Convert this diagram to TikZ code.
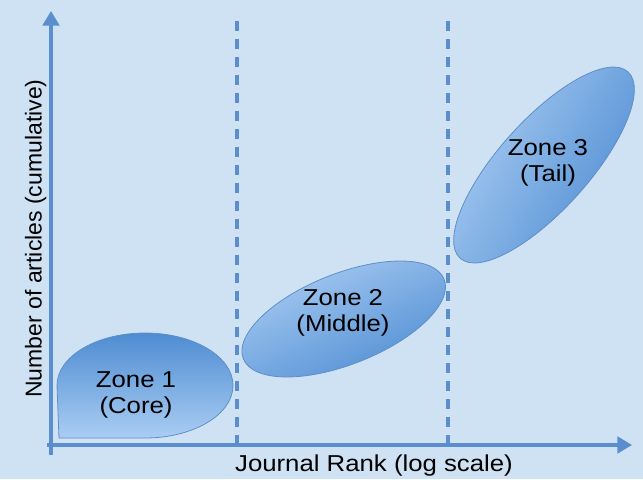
\documentclass[tikz,border=0pt]{standalone}
\usepackage{fontspec}
\setmainfont{Liberation Sans}
\newfontfamily\widesans[FakeStretch=1.12]{Liberation Sans}
\usetikzlibrary{arrows.meta}
\definecolor{bgblue}{RGB}{207,226,243}
\definecolor{axisblue}{RGB}{90,142,206}
\definecolor{zonedark}{RGB}{78,140,210}
\definecolor{zonelight}{RGB}{170,205,243}
\definecolor{zoneedge}{RGB}{95,143,200}
% light-on-top fade used for the tilted zones
\pgfdeclareverticalshading{zonefade}{100bp}{color(0bp)=(zonedark); color(25bp)=(zonedark); color(75bp)=(zonelight); color(100bp)=(zonelight)}
\begin{document}
\begin{tikzpicture}[x=0.75pt,y=0.75pt,
  axis/.style={draw=axisblue, line width=2.3pt, -{Triangle[length=11pt,width=12.5pt]}},
  divider/.style={draw=axisblue, line width=2.4pt, dash pattern=on 7.5pt off 6pt},
  zone/.style={draw=zoneedge, line width=0.6pt, shading=zonefade},
  zonelabel/.style={font=\widesans\fontsize{17.25}{19.5}\selectfont, align=center, text=black, inner sep=0pt},
  axislabel/.style={font=\fontsize{17.25}{19.5}\selectfont, text=black, inner sep=0pt}]
  % background and page frame
  \fill[bgblue] (0,0) rectangle (643,479);
  \useasboundingbox (0,0) rectangle (643,479);

  % reference points for axes and zone dividers
  \coordinate (yfoot) at (51,24);
  \coordinate (ytip) at (51,468);
  \coordinate (xfoot) at (47,34);
  \coordinate (xtip) at (632,34);
  \coordinate (divAtop) at (237,458);
  \coordinate (divAbot) at (237,34);
  \coordinate (divBtop) at (448,458);
  \coordinate (divBbot) at (448,34);

  % zone dividers
  \draw[divider] (divAtop) -- (divAbot);
  \draw[divider] (divBtop) -- (divBbot);

  % axes
  \draw[axis] (yfoot) -- (ytip);
  \draw[axis] (xfoot) -- (xtip);

  % zone 1: rounded blob with a square lower-left corner, dark on top
  \shade[draw=zoneedge, line width=0.6pt, top color=zonedark, bottom color=zonelight]
    (59,41) -- (57,93.5) arc[start angle=180, end angle=-90, x radius=88, y radius=52.5] -- cycle;

  % zone 2 and zone 3: tilted ellipses, light toward the upper left
  \shade[zone, shading angle=25, rotate around={21.6:(343.7,160)}] (343.7,160) ellipse [x radius=108, y radius=45.4];
  \shade[zone, shading angle=60, rotate around={48:(544,314)}] (544,314) ellipse [x radius=125.4, y radius=45];

  % zone labels
  \node[zonelabel] (zone1) at (136,84) {Zone 1\\(Core)};
  \node[zonelabel] (zone2) at (343,166) {Zone 2\\(Middle)};
  \node[zonelabel] (zone3) at (548,316) {Zone 3\\(Tail)};

  % axis labels
  \node[axislabel, font=\widesans\fontsize{17.25}{19.5}\selectfont, anchor=base] (xlabel) at (374,7.3) {Journal Rank (log scale)};
  \node[axislabel, rotate=90, anchor=base] (ylabel) at (41.7,240.5) {Number of articles (cumulative)};
\end{tikzpicture}
\end{document}
